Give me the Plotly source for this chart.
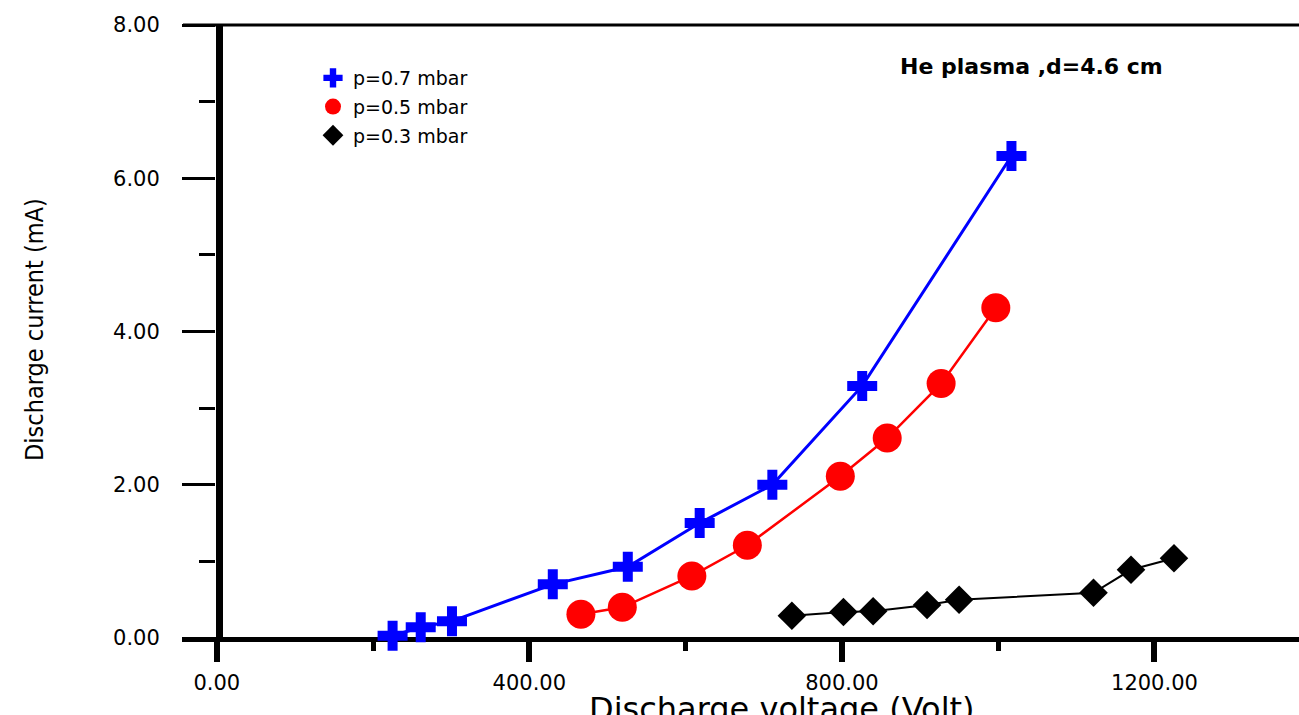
import plotly.graph_objects as go

# ---- data ----
voltage_07 = [225, 261, 301, 430, 526, 618, 711, 826, 1017]
current_07 = [0.03, 0.14, 0.22, 0.70, 0.93, 1.50, 2.00, 3.29, 6.29]

voltage_05 = [466, 519, 608, 679, 798, 858, 927, 997]
current_05 = [0.31, 0.40, 0.81, 1.21, 2.11, 2.61, 3.32, 4.31]

voltage_03 = [736, 802, 840, 909, 950, 1122, 1170, 1225]
current_03 = [0.29, 0.34, 0.35, 0.43, 0.50, 0.59, 0.89, 1.04]

series_names = ["p=0.7 mbar", "p=0.5 mbar", "p=0.3 mbar"]
x_title = "Discharge voltage (Volt)"
y_title = "Discharge current (mA)"
plot_note = "He plasma ,d=4.6 cm"

W, H = 1299, 715
ML, MR, MT, MB = 216, 0, 25, 77
PW = W - ML - MR
PH = H - MT - MB


def px_x(p):
    return (p - ML) / PW


def px_y(p):
    return (H - MB - p) / PH


FAM = "DejaVu Sans, Liberation Sans, Arial, sans-serif"
TICKFONT = dict(family=FAM, size=21, color="black")

fig = go.Figure()

series = [
    (voltage_07, current_07, series_names[0], "#0000FF", "cross", 25, 3),
    (voltage_05, current_05, series_names[1], "#FF0000", "circle", 29, 2.5),
    (voltage_03, current_03, series_names[2], "#000000", "diamond", 22, 2),
]

# lines first (no legend)
for xs, ys, name, col, sym, size, lw in series:
    fig.add_trace(go.Scatter(
        x=xs, y=ys, mode="lines", line=dict(color=col, width=lw),
        showlegend=False, hoverinfo="skip", cliponaxis=False,
    ))

# markers (with legend)
for i, (xs, ys, name, col, sym, size, lw) in enumerate(series):
    fig.add_trace(go.Scatter(
        x=xs, y=ys, mode="markers", name=name,
        marker=dict(symbol=sym, size=size, color=col, line=dict(width=0)),
        legendgroup=f"g{i}", cliponaxis=False,
    ))

fig.update_layout(
    width=W, height=H,
    margin=dict(l=ML, r=MR, t=MT, b=MB, pad=0),
    paper_bgcolor="white", plot_bgcolor="white",
    font=dict(family=FAM, color="black"),
    showlegend=True,
    legend=dict(
        x=px_x(313), y=px_y(59), xanchor="left", yanchor="top",
        bgcolor="rgba(0,0,0,0)", borderwidth=0,
        font=dict(family=FAM, size=19, color="black"),
        tracegroupgap=1, itemsizing="trace",
    ),
    xaxis=dict(
        range=[-1, 1385], showgrid=False, zeroline=False, showline=False,
        tickmode="linear", tick0=0, dtick=400, tickformat=".2f",
        ticks="outside", ticklen=23, tickwidth=6, tickcolor="black",
        minor=dict(dtick=200, tick0=0, ticks="outside", ticklen=12, tickwidth=5, tickcolor="black", showgrid=False),
        tickfont=TICKFONT, ticklabelstandoff=3,
    ),
    yaxis=dict(
        range=[0, 8], showgrid=False, zeroline=False, showline=False,
        tickmode="linear", tick0=0, dtick=2, tickformat=".2f",
        ticks="outside", ticklen=33, tickwidth=3, tickcolor="black",
        minor=dict(dtick=1, tick0=0, ticks="outside", ticklen=16, tickwidth=3, tickcolor="black", showgrid=False),
        tickfont=TICKFONT, ticklabelstandoff=18,
    ),
    shapes=[
        # y axis line (thick)
        dict(type="line", xref="paper", yref="paper", x0=px_x(219.5), x1=px_x(219.5), y0=px_y(641), y1=1,
             line=dict(color="black", width=7), layer="below"),
        # x axis line extending left of the y axis
        dict(type="line", xref="paper", yref="paper", x0=px_x(182), x1=1, y0=px_y(639.5), y1=px_y(639.5),
             line=dict(color="black", width=5), layer="below"),
        # top frame line
        dict(type="line", xref="paper", yref="paper", x0=px_x(183), x1=1, y0=1, y1=1,
             line=dict(color="black", width=3), layer="below"),
    ],
    annotations=[
        dict(text=plot_note, xref="paper", yref="paper", x=px_x(1031), y=px_y(67),
             xanchor="center", yanchor="middle", showarrow=False,
             font=dict(family=FAM, size=22, color="black", weight="bold")),
        dict(text=x_title, xref="paper", yref="paper", x=px_x(782), y=px_y(688),
             xanchor="center", yanchor="top", showarrow=False,
             font=dict(family=FAM, size=32, color="black")),
        dict(text=y_title, xref="paper", yref="paper", x=px_x(34), y=px_y(330),
             xanchor="center", yanchor="middle", showarrow=False, textangle=-90,
             font=dict(family="Liberation Sans Narrow, DejaVu Sans Condensed, Arial Narrow, sans-serif", size=25, color="black")),
    ],
)

fig.write_html("out.html")
